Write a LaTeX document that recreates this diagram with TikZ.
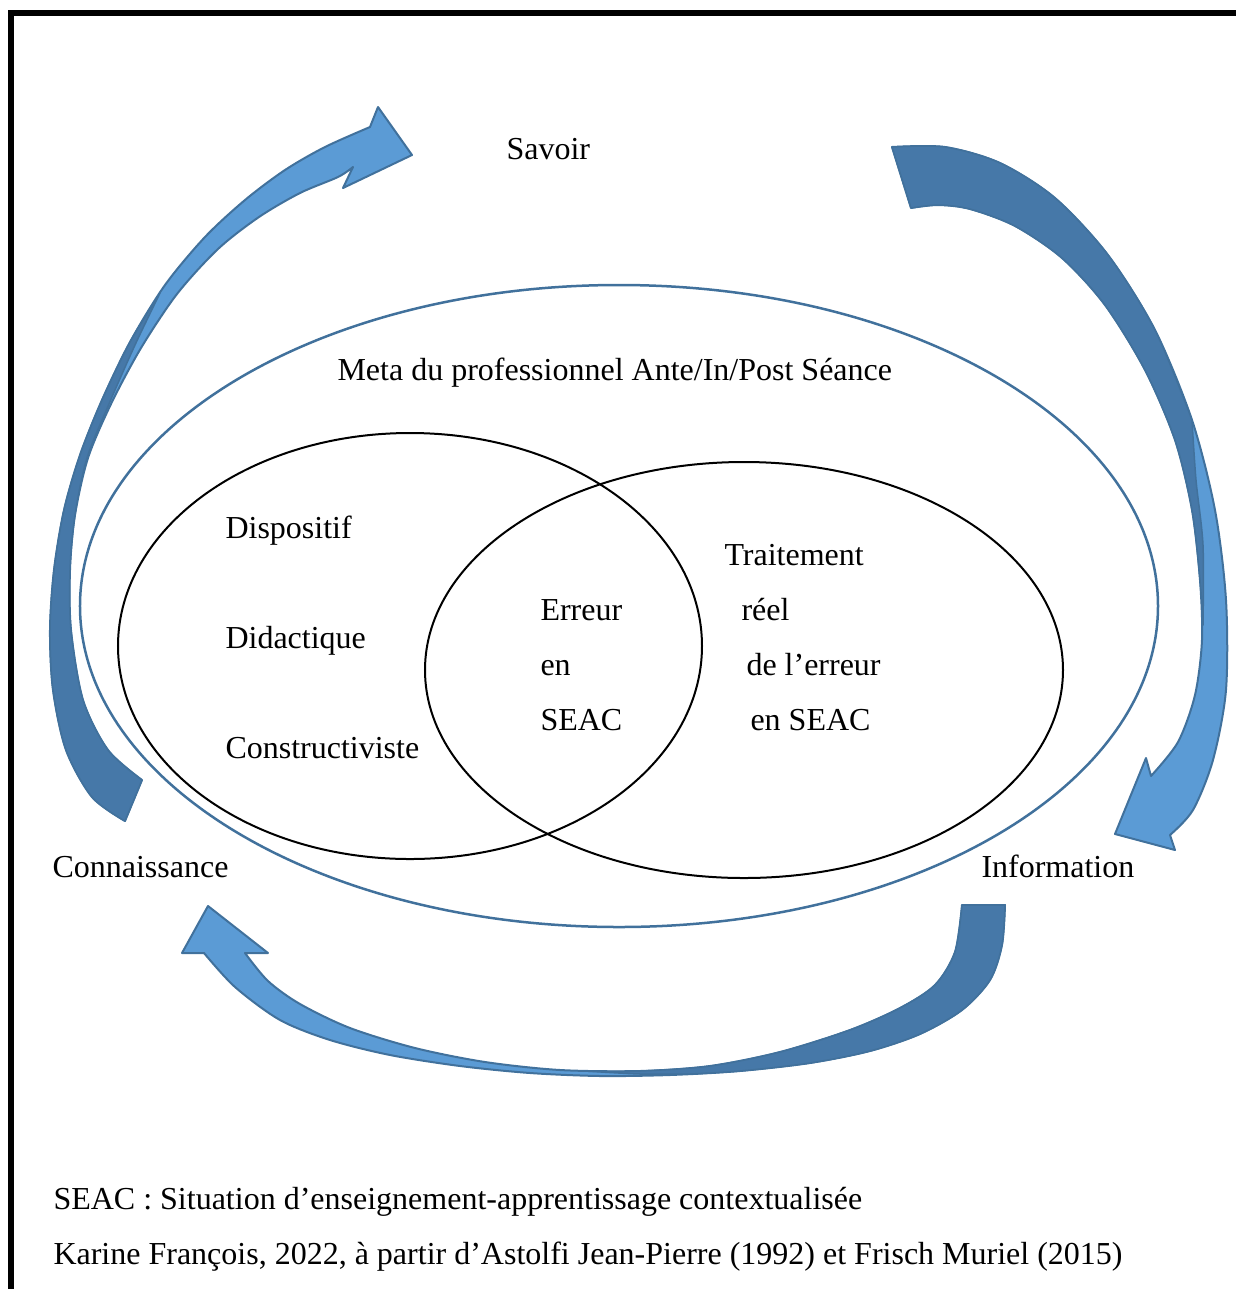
\documentclass[tikz,border=0pt]{standalone}
\usepackage{fontspec}
\setmainfont{Liberation Serif}
\definecolor{arrowlight}{RGB}{91,155,213}
\definecolor{arrowdark}{RGB}{70,120,168}
\definecolor{arrowline}{RGB}{65,113,156}
\tikzset{
	txt/.style={anchor=base west, inner sep=0pt, font=\fontsize{12.8}{15}\selectfont},
	band/.style={fill=arrowlight, draw=arrowline, line width=0.8pt, line join=round},
	backband/.style={fill=arrowdark, draw=arrowline, line width=0.6pt, line join=round}
}
\begin{document}
\begin{tikzpicture}[x=0.4pt, y=-0.4pt]
	\useasboundingbox (0,0) rectangle (1236,1289);
	\fill (8,10) rectangle (1236,16);
	\fill (8,10) rectangle (14,1289);

	% ellipses
	\draw[arrowline, line width=1pt] (619,606) ellipse [x radius=215.6pt, y radius=128.4pt];
	\draw[line width=0.8pt] (410,646) ellipse [x radius=116.8pt, y radius=85.2pt];
	\draw[line width=0.8pt] (744,670) ellipse [x radius=127.6pt, y radius=83.2pt];

	% Connaissance -> Savoir
	\path[band] (125,821) -- plot[smooth] coordinates {(125,821) (92,797) (66,750) (53,690) (50,630) (54,570) (64,510) (80,455) (102,400) (130,342) (165,285) (205,237) (245,200) (285,170) (325,147) (370,127)}
		-- (378,107) -- (412,155) -- (343,188) -- (353,167)
		-- plot[smooth] coordinates {(353,167) (338,177) (300,193) (259,217) (218,249) (177,294) (141,348) (111,404) (88,458) (75,515) (70,570) (71,630) (83,700) (108,750) (142,780)} -- cycle;
	\path[backband] (125,821) -- plot[smooth] coordinates {(125,821) (92,797) (66,750) (53,690) (50,630) (54,570) (64,510) (80,455) (102,400) (130,342) (160,293)}
		-- plot[smooth] coordinates {(160,293) (135,345) (109,404) (87,458) (75,515) (70,570) (71,630) (83,700) (108,750) (142,780)} -- cycle;

	% Savoir -> Information
	\path[band] (892,147) -- plot[smooth] coordinates {(892,147) (945,147) (1000,163) (1055,198) (1108,255) (1155,330) (1192,420) (1215,510) (1226,600) (1226,690) (1213,760) (1193,810) (1170,835)}
		-- (1175,850) -- (1115,834) -- (1146,758) -- (1151,776)
		-- plot[smooth] coordinates {(1151,776) (1178,742) (1195,695) (1202,640) (1200,580) (1192,510) (1175,440) (1145,370) (1105,305) (1062,258) (1015,226) (970,209) (938,205) (911,208)} -- cycle;
	\path[backband] (892,147) -- plot[smooth] coordinates {(892,147) (945,147) (1000,163) (1055,198) (1108,255) (1155,330) (1192,420)}
		-- plot[smooth] coordinates {(1192,420) (1196,480) (1203,545) (1203,625)}
		-- plot[smooth] coordinates {(1203,625) (1200,580) (1192,510) (1175,440) (1145,370) (1105,305) (1062,258) (1015,226) (970,209) (938,205) (911,208)} -- cycle;

	% Information -> Connaissance
	\path[band] (1005,905) -- plot[smooth] coordinates {(1005,905) (1002,945) (990,980) (962,1010) (920,1034) (870,1051) (810,1063) (740,1071) (670,1075) (600,1076) (530,1073) (460,1066) (390,1055) (330,1040) (280,1020) (235,987) (204,953)}
		-- (182,953) -- (208,906) -- (268,953) -- (245,953)
		-- plot[smooth] coordinates {(245,953) (268,981) (300,1004) (350,1028) (415,1048) (485,1062) (560,1070) (640,1071) (710,1066) (780,1052) (850,1030) (900,1008) (935,985) (955,952) (962,905)} -- cycle;
	\path[backband] (1005,905) -- plot[smooth] coordinates {(1005,905) (1002,945) (990,980) (962,1010) (920,1034) (870,1051) (810,1063) (740,1071) (690,1074)}
		-- plot[smooth] coordinates {(690,1074) (640,1074) (585,1071)}
		-- plot[smooth] coordinates {(585,1071) (640,1071) (710,1066) (780,1052) (850,1030) (900,1008) (935,985) (955,952) (962,905)} -- cycle;

	% texts
	\node[txt] (savoir) at (506,159) {Savoir};
	\node[txt] (meta) at (337,380) {Meta du professionnel Ante/In/Post Séance};
	\node[txt] (dispositif) at (225,538) {Dispositif};
	\node[txt] (didactique) at (225,648) {Didactique};
	\node[txt] (constr) at (225,758) {Constructiviste};
	\node[txt] (erreur) at (540,620) {Erreur};
	\node[txt] (en) at (540,675) {en};
	\node[txt] (seac) at (540,730) {SEAC};
	\node[txt] (traitement) at (724,565) {Traitement};
	\node[txt] (reel) at (741,620) {réel};
	\node[txt] (delerreur) at (746,675) {de l’erreur};
	\node[txt] (enseac) at (750,730) {en SEAC};
	\node[txt] (connaissance) at (52,877) {Connaissance};
	\node[txt] (information) at (981,877) {Information};
	\node[txt] (legende) at (53,1209) {SEAC : Situation d’enseignement-apprentissage contextualisée};
	\node[txt] (source) at (53,1264) {Karine François, 2022, à partir d’Astolfi Jean-Pierre (1992) et Frisch Muriel (2015)};
\end{tikzpicture}
\end{document}
